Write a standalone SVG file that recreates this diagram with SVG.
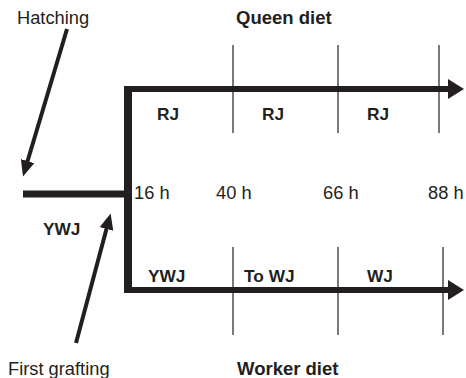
<svg xmlns="http://www.w3.org/2000/svg" width="466" height="378" viewBox="0 0 466 378">
  <defs>
    <style>
      text { font-family: "Liberation Sans", Arial, sans-serif; fill: #231f20; }
      .lbl { font-size: 18.3px; }
      .b { font-weight: bold; font-size: 17.3px; }
      .t { font-weight: bold; font-size: 18.5px; }
      .thick { stroke: #231f20; fill: none; }
      .tick { stroke: #231f20; stroke-width: 1.2; }
    </style>
    <marker id="head" markerUnits="userSpaceOnUse" markerWidth="20" markerHeight="20" viewBox="0 0 16 20" refX="2" refY="10" orient="auto">
      <path d="M0,0 L16,10 L0,20 Z" fill="#231f20"/>
    </marker>
    <marker id="headSmall" markerUnits="userSpaceOnUse" markerWidth="16" markerHeight="14" viewBox="0 0 16 14" refX="2" refY="7" orient="auto">
      <path d="M0,0 L16,7 L0,14 Z" fill="#231f20"/>
    </marker>
  </defs>

  <!-- titles and time labels -->
  <g id="titles">
    <text class="lbl" x="17" y="24">Hatching</text>
    <text class="t" x="236" y="24">Queen diet</text>
    <text class="lbl" x="8" y="375">First grafting</text>
    <text class="t" x="237" y="375">Worker diet</text>
  </g>
  <g id="times">
    <text class="lbl" x="134" y="199">16 h</text>
    <text class="lbl" x="216" y="199">40 h</text>
    <text class="lbl" x="323" y="199">66 h</text>
    <text class="lbl" x="428" y="199">88 h</text>
  </g>

  <!-- timeline connectors -->
  <g id="connectors">
    <line class="thick" x1="23" y1="194" x2="128" y2="194" stroke-width="7"/>
    <line class="thick" x1="128" y1="86" x2="128" y2="293" stroke-width="8"/>
    <line class="thick" x1="124" y1="89" x2="450" y2="89" stroke-width="6" marker-end="url(#head)"/>
    <line class="thick" x1="124" y1="290" x2="450" y2="290" stroke-width="6" marker-end="url(#head)"/>
    <line class="thick" x1="67" y1="29" x2="27" y2="163" stroke-width="4" marker-end="url(#headSmall)"/>
    <line class="thick" x1="76" y1="343" x2="107" y2="227" stroke-width="4" marker-end="url(#headSmall)"/>
  </g>

  <!-- queen diet periods -->
  <g id="queen">
    <line class="tick" x1="233" y1="45" x2="233" y2="133"/>
    <line class="tick" x1="338" y1="45" x2="338" y2="133"/>
    <line class="tick" x1="439" y1="45" x2="439" y2="133"/>
    <text class="b" x="157" y="120">RJ</text>
    <text class="b" x="262" y="120">RJ</text>
    <text class="b" x="367" y="120">RJ</text>
  </g>

  <!-- worker diet periods -->
  <g id="worker">
    <line class="tick" x1="233" y1="247" x2="233" y2="335"/>
    <line class="tick" x1="338" y1="247" x2="338" y2="335"/>
    <line class="tick" x1="443" y1="247" x2="443" y2="335"/>
    <text class="b" x="43" y="235">YWJ</text>
    <text class="b" x="148" y="282">YWJ</text>
    <text class="b" x="244" y="282">To WJ</text>
    <text class="b" x="367" y="282">WJ</text>
  </g>
</svg>
